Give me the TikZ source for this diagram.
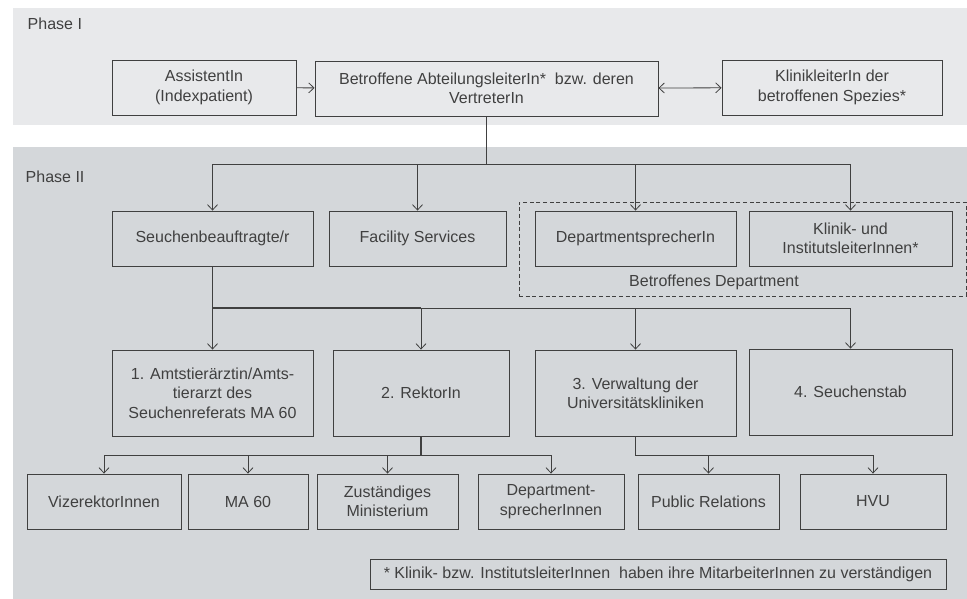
\documentclass[tikz,border=0pt]{standalone}
\usepackage{fontspec}
\setmainfont{Liberation Sans}
\usetikzlibrary{arrows.meta}

\definecolor{phaseone}{HTML}{E8E9EB}
\definecolor{phasetwo}{HTML}{D4D7DA}
\definecolor{ink}{HTML}{404040}

\tikzstyle{unit}=[rectangle,draw=ink,line width=0.65pt,text=ink,align=center,minimum height=41.25pt,inner sep=2pt]
\tikzstyle{unittall}=[unit,minimum height=64.5pt]
\tikzstyle{trunk}=[draw=ink,line width=1.1pt]
\tikzstyle{feed}=[draw=ink,line width=0.6pt,-{Straight Barb[length=4pt,width=7.5pt]}]
\tikzstyle{twoway}=[draw=ink,line width=0.6pt,{Straight Barb[length=4pt,width=7.5pt]}-{Straight Barb[length=4pt,width=7.5pt]}]

\begin{document}
\begin{tikzpicture}[x=0.75pt,y=-0.75pt,every node/.style={font=\fontsize{12}{14.5}\selectfont}]
	\useasboundingbox (0,0) rectangle (967,599);
	\fill [phaseone] (13,8) rectangle (967,125);
	\fill [phasetwo] (13,147) rectangle (967,599);

	\node (p1) at (23,24) [anchor=west,text=ink] {Phase I};
	\node (p2) at (21,177) [anchor=west,text=ink] {Phase II};

	% Phase I
		\node (assist) at (204,87.5) [unit,minimum width=138pt] {AssistentIn\\(Indexpatient)};
		\node (betr) at (486.5,88.5) [unit,minimum width=257.25pt] {Betroffene AbteilungsleiterIn*\ \ bzw. deren\\VertreterIn};
		\node (klinikl) at (832,87.5) [unit,minimum width=165pt] {KlinikleiterIn der\\betroffenen Spezies*};

	% Phase II
		\node (dep) at (742.5,249) [rectangle,draw=ink,dash pattern=on 3pt off 2pt,line width=0.6pt,minimum width=335.25pt,minimum height=70.5pt] {};
		\node (deplabel) at (714,282) [text=ink] {Betroffenes Department};

		\node (seuch) at (212.5,238.5) [unit,minimum width=150.75pt] {Seuchenbeauftragte/r};
		\node (fac) at (417.5,238.5) [unit,minimum width=132.75pt] {Facility Services};
		\node (depspr) at (635.5,238.5) [unit,minimum width=150.75pt] {DepartmentsprecherIn};
		\node (kliinst) at (850.5,238.5) [unit,minimum width=152.25pt] {Klinik- und\\InstitutsleiterInnen*};

		\node (amt) at (212.5,393) [unittall,minimum width=150.75pt] {1. Amtstier\"arztin/Amts-\\tierarzt des\\Seuchenreferats MA 60};
		\node (rektor) at (421,393) [unittall,minimum width=132pt] {2. RektorIn};
		\node (verw) at (635.5,393) [unittall,minimum width=150.75pt] {3. Verwaltung der\\Universit\"atskliniken};
		\node (stab) at (850.5,392) [unittall,minimum width=152.25pt] {4. Seuchenstab};

		\node (viz) at (104,501.5) [unit,minimum width=115.5pt] {VizerektorInnen};
		\node (ma) at (248,501.5) [unit,minimum width=90pt] {MA 60};
		\node (zust) at (387.5,501.5) [unit,minimum width=105.75pt] {Zust\"andiges\\Ministerium};
		\node (desp) at (551,501.5) [unit,minimum width=109.5pt] {Department-\\sprecherInnen};
		\node (pr) at (708.5,501.5) [unit,minimum width=105.75pt] {Public Relations};
		\node (hvu) at (873,501.5) [unit,minimum width=109.5pt] {HVU};

		\node (note) at (658,574) [unit,minimum width=432pt,minimum height=22.5pt] {* Klinik- bzw. InstitutsleiterInnen\ \ haben ihre MitarbeiterInnen zu verst\"andigen};

	\draw [feed] (assist) to (betr);
	\draw [twoway] (betr) to (klinikl);

	\coordinate (b1) at (486.5,164);
	\draw [trunk] (betr.south) to (b1);
	\draw [feed] (b1) -| (seuch.north);
	\draw [feed] (b1) -| (fac.north);
	\draw [feed] (b1) -| (depspr.north);
	\draw [feed] (b1) -| (kliinst.north);

	\coordinate (b2) at (212.5,308);
	\draw [trunk] (seuch.south) to (b2);
	\draw [trunk] (b2) to (421,308);
	\draw [feed] (b2) -| (amt.north);
	\draw [feed] (b2) -| (rektor.north);
	\draw [feed] (b2) -| (verw.north);
	\draw [feed] (b2) -| (stab.north);

	\coordinate (b3) at (421,455);
	\draw [trunk] (rektor.south) to (b3);
	\draw [feed] (b3) -| (viz.north);
	\draw [feed] (b3) -| (ma.north);
	\draw [feed] (b3) -| (zust.north);
	\draw [feed] (b3) -| (desp.north);

	\coordinate (b4) at (635.5,455);
	\draw [feed] (verw.south) to (b4) -| (pr.north);
	\draw [feed] (b4) -| (hvu.north);
\end{tikzpicture}
\end{document}
